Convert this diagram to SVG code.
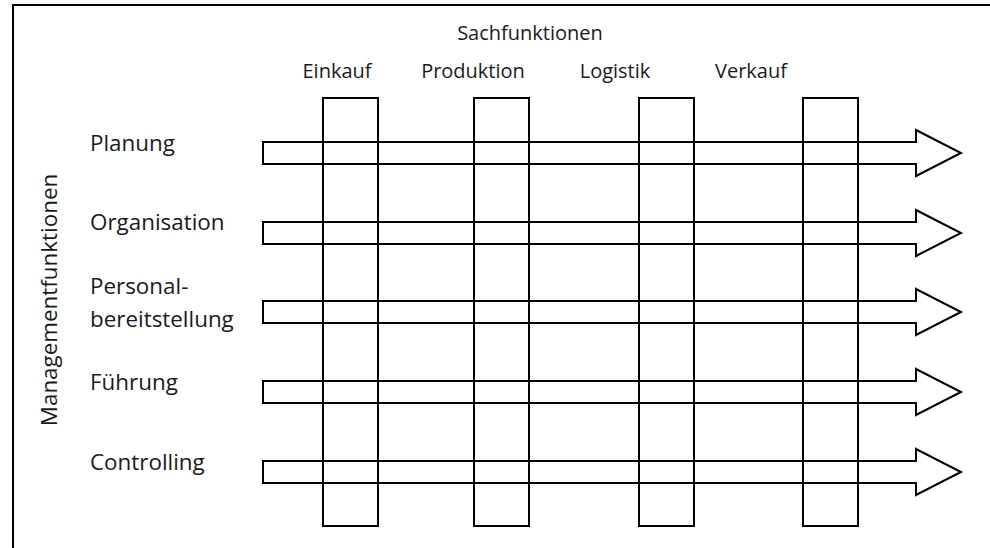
<svg xmlns="http://www.w3.org/2000/svg" width="990" height="548" viewBox="0 0 990 548">
  <style>
    .line { fill: none; stroke: #000; stroke-width: 2; }
    .lbl { font-family: "Open Sans", "Noto Sans", "Liberation Sans", sans-serif; font-size: 20px; fill: #1a1a1a; }
    .side { font-size: 22.4px; }
  </style>
  <defs>
    <!-- horizontal block arrow centred on y=0 -->
    <polygon id="row-arrow" class="line" points="263,-11 916,-11 916,-23 961,0 916,23 916,11 263,11"/>
    <!-- vertical column box -->
    <rect id="col-box" class="line" x="0" y="98" width="55" height="428"/>
  </defs>

  <rect width="990" height="548" fill="#fff"/>
  <!-- outer frame (open to the right and bottom) -->
  <rect class="line" x="13" y="5" width="1000" height="600"/>

  <!-- headings -->
  <text class="lbl" x="530" y="40" text-anchor="middle">Sachfunktionen</text>
  <text class="lbl side" x="57" y="300" text-anchor="middle" transform="rotate(-90 57 300)">Managementfunktionen</text>

  <!-- columns -->
  <g id="einkauf">
    <use href="#col-box" x="323"/>
    <text class="lbl" x="337" y="78" text-anchor="middle">Einkauf</text>
  </g>
  <g id="produktion">
    <use href="#col-box" x="474"/>
    <text class="lbl" x="473" y="78" text-anchor="middle">Produktion</text>
  </g>
  <g id="logistik">
    <use href="#col-box" x="639"/>
    <text class="lbl" x="615" y="78" text-anchor="middle">Logistik</text>
  </g>
  <g id="verkauf">
    <use href="#col-box" x="803"/>
    <text class="lbl" x="751" y="78" text-anchor="middle">Verkauf</text>
  </g>

  <!-- rows -->
  <g id="planung">
    <use href="#row-arrow" y="153"/>
    <text class="lbl side" x="90" y="151">Planung</text>
  </g>
  <g id="organisation">
    <use href="#row-arrow" y="233"/>
    <text class="lbl side" x="90" y="230">Organisation</text>
  </g>
  <g id="personalbereitstellung">
    <use href="#row-arrow" y="312"/>
    <text class="lbl side" x="90" y="294">Personal-</text>
    <text class="lbl side" x="90" y="327">bereitstellung</text>
  </g>
  <g id="fuehrung">
    <use href="#row-arrow" y="392"/>
    <text class="lbl side" x="90" y="390">Führung</text>
  </g>
  <g id="controlling">
    <use href="#row-arrow" y="472"/>
    <text class="lbl side" x="90" y="470">Controlling</text>
  </g>
</svg>
